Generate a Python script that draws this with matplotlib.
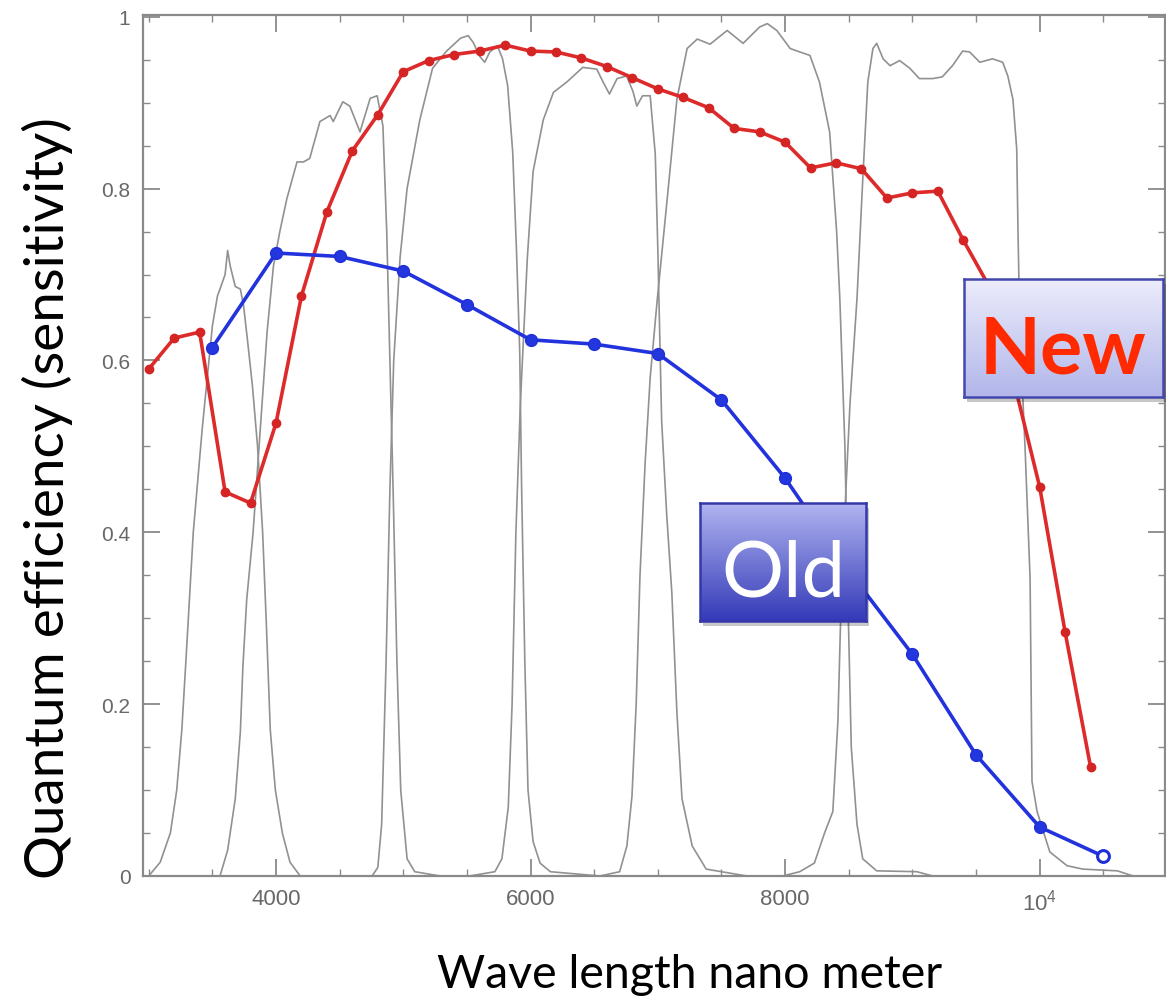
import numpy as np
import matplotlib
matplotlib.use("Agg")
import matplotlib.pyplot as plt
from matplotlib.patches import Rectangle
from matplotlib.ticker import MultipleLocator, FixedLocator, FixedFormatter

# ---------------- data ----------------
new_x = [3000, 3200, 3400, 3600, 3800, 4000, 4200, 4400, 4600, 4800, 5000, 5200, 5400,
         5600, 5800, 6000, 6200, 6400, 6600, 6800, 7000, 7200, 7400, 7600, 7800, 8000,
         8200, 8400, 8600, 8800, 9000, 9200, 9400, 9600, 9800, 10000, 10200, 10400]
new_y = [0.59, 0.626, 0.633, 0.447, 0.434, 0.527, 0.675, 0.773, 0.844, 0.886, 0.936,
         0.949, 0.956, 0.960, 0.967, 0.960, 0.959, 0.952, 0.942, 0.929, 0.916, 0.906,
         0.894, 0.870, 0.866, 0.854, 0.824, 0.830, 0.823, 0.789, 0.795, 0.797, 0.740,
         0.687, 0.574, 0.453, 0.284, 0.127]

old_x = [3500, 4000, 4500, 5000, 5500, 6000, 6500, 7000, 7500, 8000, 8500, 9000, 9500,
         10000, 10500]
old_y = [0.615, 0.725, 0.721, 0.704, 0.665, 0.624, 0.619, 0.608, 0.554, 0.463, 0.355,
         0.258, 0.141, 0.057, 0.023]

# filter transmission curves (gray)
u_x = [3000, 3090, 3170, 3220, 3260, 3290, 3350, 3420, 3470, 3500, 3540, 3560, 3600, 3620,
       3640, 3680, 3720, 3745, 3775, 3815, 3855, 3895, 3925, 3955, 3995, 4050, 4110, 4190]
u_y = [0.0, 0.016, 0.05, 0.10, 0.17, 0.245, 0.40, 0.52, 0.595, 0.64, 0.675, 0.683, 0.70,
       0.728, 0.71, 0.686, 0.683, 0.664, 0.625, 0.57, 0.50, 0.40, 0.29, 0.17, 0.10, 0.05,
       0.016, 0.0]

b_x = [3560, 3620, 3680, 3720, 3740, 3770, 3820, 3875, 3930, 3980, 4030, 4085, 4165, 4215,
       4265, 4345, 4425, 4450, 4525, 4580, 4660, 4740, 4795, 4840, 4870, 4895, 4920, 4950,
       4980, 5030, 5090, 5290]
b_y = [0.0, 0.03, 0.09, 0.168, 0.244, 0.322, 0.40, 0.517, 0.633, 0.71, 0.75, 0.788, 0.831,
       0.831, 0.835, 0.878, 0.885, 0.878, 0.901, 0.896, 0.866, 0.905, 0.908, 0.873, 0.75,
       0.60, 0.45, 0.25, 0.10, 0.02, 0.005, 0.0]

v_x = [4755, 4800, 4830, 4865, 4895, 4925, 4975, 5030, 5130, 5230, 5340, 5450, 5510, 5550,
       5600, 5640, 5680, 5740, 5780, 5820, 5860, 5890, 5915, 5930, 5955, 5980, 6020, 6075,
       6155, 6545]
v_y = [0.0, 0.01, 0.06, 0.25, 0.45, 0.60, 0.72, 0.80, 0.88, 0.94, 0.96, 0.975, 0.978, 0.97,
       0.954, 0.947, 0.959, 0.966, 0.951, 0.92, 0.842, 0.726, 0.61, 0.45, 0.25, 0.10, 0.04,
       0.015, 0.005, 0.0]

r_x = [5520, 5720, 5775, 5825, 5855, 5885, 5920, 5975, 6020, 6100, 6180, 6285, 6410, 6520,
       6570, 6620, 6680, 6755, 6805, 6835, 6880, 6940, 6980, 7000, 7030, 7070, 7110, 7150,
       7190, 7270, 7380, 7700]
r_y = [0.0, 0.005, 0.02, 0.08, 0.2, 0.4, 0.55, 0.72, 0.82, 0.88, 0.912, 0.924, 0.941,
       0.939, 0.924, 0.91, 0.928, 0.931, 0.913, 0.896, 0.908, 0.908, 0.84, 0.73, 0.53, 0.42,
       0.33, 0.19, 0.09, 0.035, 0.008, 0.0]

i_x = [6545, 6700, 6757, 6797, 6830, 6860, 6900, 6940, 6995, 7075, 7150, 7230, 7310, 7410,
       7545, 7670, 7800, 7860, 7935, 8040, 8115, 8195, 8270, 8350, 8405, 8430, 8470, 8490,
       8520, 8565, 8610, 8720, 9035, 9160]
i_y = [0.0, 0.005, 0.035, 0.093, 0.2, 0.35, 0.48, 0.58, 0.67, 0.79, 0.904, 0.963, 0.974,
       0.968, 0.984, 0.969, 0.988, 0.992, 0.984, 0.963, 0.959, 0.955, 0.924, 0.866, 0.75,
       0.672, 0.5, 0.346, 0.15, 0.06, 0.02, 0.006, 0.005, 0.0]

z_x = [7980, 8115, 8230, 8310, 8375, 8415, 8445, 8510, 8565, 8610, 8650, 8690, 8720, 8770,
       8825, 8900, 8980, 9055, 9160, 9235, 9315, 9395, 9450, 9530, 9630, 9710, 9750, 9790,
       9820, 9830, 9845, 9885, 9925, 9940, 9980, 10080, 10215, 10340, 10610, 10735]
z_y = [0.0, 0.005, 0.015, 0.05, 0.075, 0.18, 0.346, 0.55, 0.672, 0.81, 0.924, 0.963, 0.969,
       0.951, 0.943, 0.949, 0.94, 0.928, 0.928, 0.93, 0.943, 0.96, 0.959, 0.947, 0.951,
       0.947, 0.931, 0.904, 0.846, 0.75, 0.633, 0.5, 0.346, 0.11, 0.075, 0.028, 0.012,
       0.008, 0.006, 0.0]

xtick_vals = [4000, 6000, 8000, 10000]
xtick_labels = ["4000", "6000", "8000", r"$\mathregular{10^4}$"]
ytick_vals = [0, 0.2, 0.4, 0.6, 0.8, 1.0]
ytick_labels = ["0", "0.2", "0.4", "0.6", "0.8", "1"]

y_label = "Quantum efficiency (sensitivity)"
x_label = "Wave length nano meter"
old_label = "Old"
new_label = "New"

# ---------------- figure ----------------
W, H = 1166, 1003
fig = plt.figure(figsize=(W / 100, H / 100), dpi=100)
fig.patch.set_facecolor("white")

ax = fig.add_axes([143 / W, (H - 877) / H, (1165 - 143) / W, (877 - 16) / H])
ax.set_xlim(2955, 10985)
ax.set_ylim(0, 1.002)

gray = "#919191"
for fx, fy in [(u_x, u_y), (b_x, b_y), (v_x, v_y), (r_x, r_y), (i_x, i_y), (z_x, z_y)]:
    ax.plot(fx, fy, color=gray, lw=1.2, zorder=2, solid_joinstyle="round")

ax.plot(new_x, new_y, color="#dd2a2a", lw=2.6, marker="o", ms=6, mec="#d42424",
        mfc="#d42424", zorder=4)
ax.plot(old_x, old_y, color="#2233dd", lw=2.6, marker="o", ms=8.5, mec="#1f2fd6",
        mfc="#2436dd", zorder=5)
ax.plot(old_x[-1:], old_y[-1:], ls="none", marker="o", ms=8.5, mec="#1f2fd6", mew=2.2,
        mfc="white", zorder=6)

for s in ax.spines.values():
    s.set_color("#8a8a8a")
    s.set_linewidth(1.6)

ax.xaxis.set_major_locator(FixedLocator(xtick_vals))
ax.xaxis.set_major_formatter(FixedFormatter(xtick_labels))
ax.xaxis.set_minor_locator(MultipleLocator(500))
ax.yaxis.set_major_locator(FixedLocator(ytick_vals))
ax.yaxis.set_major_formatter(FixedFormatter(ytick_labels))
ax.yaxis.set_minor_locator(MultipleLocator(0.05))
ax.tick_params(which="both", direction="in", top=True, right=True, color="#8a8a8a",
               labelcolor="#686868")
ax.tick_params(which="major", length=12, width=1.3)
ax.tick_params(which="minor", length=5, width=1.0)
ax.tick_params(axis="x", pad=9, labelsize=16)
ax.tick_params(axis="y", pad=9, labelsize=15)
for lab in ax.get_xticklabels() + ax.get_yticklabels():
    lab.set_fontfamily(["Liberation Sans", "DejaVu Sans"])

fig.text(64 / W, 1 - 498 / H, y_label, rotation=90, rotation_mode="anchor",
         ha="center", va="baseline", fontsize=39.5, family=["Lato", "DejaVu Sans"],
         color="black")
fig.text(690 / W, 1 - 988 / H, x_label, ha="center", va="baseline", fontsize=33.5,
         family=["Lato", "DejaVu Sans"], color="black")


def add_box(x0, y0, x1, y1, top_rgb, bot_rgb, edge, text, tcolor, weight, size, base):
    fig.patches.append(Rectangle(((x0 + 3) / W, 1 - (y1 + 5) / H), (x1 - x0) / W,
                                 (y1 - y0) / H, transform=fig.transFigure,
                                 facecolor="#000000", alpha=0.22, edgecolor="none",
                                 zorder=8))
    bax = fig.add_axes([x0 / W, 1 - y1 / H, (x1 - x0) / W, (y1 - y0) / H], zorder=9)
    t = np.linspace(0, 1, 200)[:, None]
    top = np.array(top_rgb) / 255.0
    bot = np.array(bot_rgb) / 255.0
    img = top[None, None, :] * (1 - t[:, :, None]) + bot[None, None, :] * t[:, :, None]
    bax.imshow(img, aspect="auto", extent=[0, 1, 0, 1], interpolation="bilinear")
    bax.set_xlim(0, 1)
    bax.set_ylim(0, 1)
    bax.set_xticks([])
    bax.set_yticks([])
    for s in bax.spines.values():
        s.set_color(edge)
        s.set_linewidth(1.8)
    bax.text(0.5, base, text, ha="center", va="baseline", color=tcolor,
             fontsize=size, fontweight=weight, family=["Lato", "DejaVu Sans"])


add_box(700, 504, 866, 622, (176, 180, 240), (52, 58, 184), "#3438a8", old_label,
        "white", "normal", 56, 0.22)
add_box(964, 280, 1163, 398, (236, 236, 251), (178, 182, 234), "#4448ac", new_label,
        "#ff2a00", "bold", 57, 0.21)

fig.savefig("out.png", dpi=100)
